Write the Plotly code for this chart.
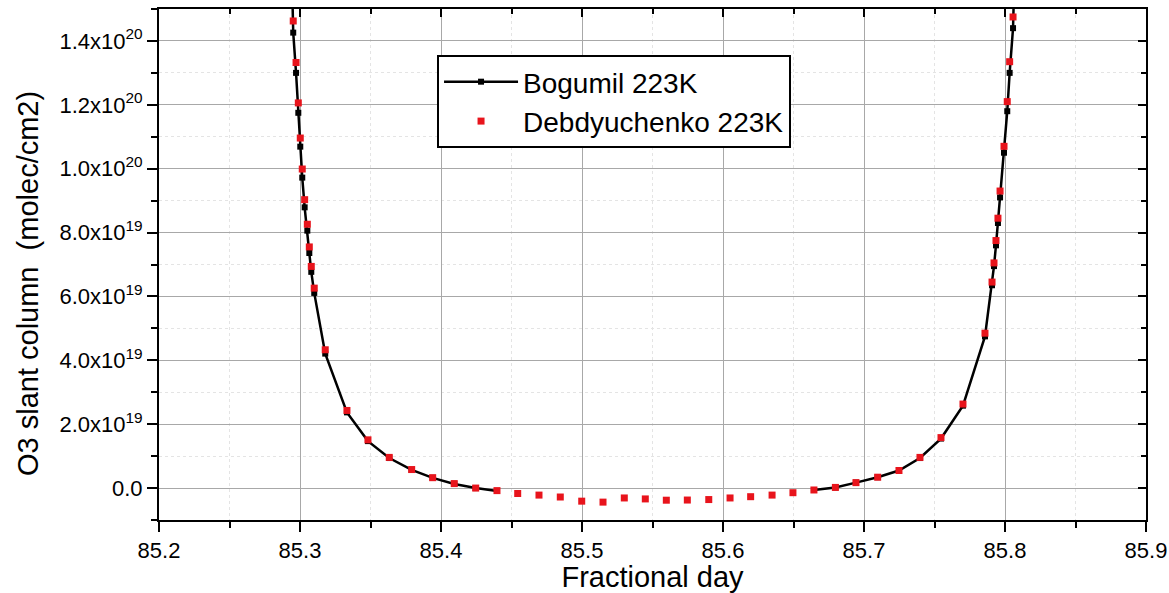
import plotly.graph_objects as go

# ---- data ----
bog_x = [85.2945, 85.2952, 85.2972, 85.2988, 85.3002, 85.3016, 85.3033, 85.3052, 85.3066, 85.3080, 85.3101,
         85.3179, 85.3333, 85.3482, 85.3633, 85.3792, 85.3941, 85.4094, 85.4246, 85.4397,
         None,
         85.6645, 85.6797, 85.6943, 85.7097, 85.7248, 85.7397, 85.7546, 85.7702, 85.7858,
         85.7908, 85.7922, 85.7936, 85.7950, 85.7965, 85.7993, 85.8016, 85.8033, 85.8057, 85.8064]
bog_y = [1.56e20, 1.426e20, 1.30e20, 1.175e20, 1.069e20, 9.72e19, 8.79e19, 8.06e19, 7.36e19, 6.77e19, 6.11e19,
         4.21e19, 2.37e19, 1.47e19, 9.4e18, 5.7e18, 3.2e18, 1.3e18, 0.0, -9e17,
         None,
         -6e17, 2e17, 1.7e18, 3.4e18, 5.5e18, 9.4e18, 1.55e19, 2.58e19, 4.75e19,
         6.35e19, 6.95e19, 7.6e19, 8.3e19, 9.1e19, 1.05e20, 1.18e20, 1.30e20, 1.44e20, 1.56e20]

deb_x = [85.2952, 85.2972, 85.2988, 85.3002, 85.3016, 85.3033, 85.3052, 85.3066, 85.3080, 85.3101,
         85.3179, 85.3333, 85.3482, 85.3633, 85.3792, 85.3941, 85.4094, 85.4246, 85.4397,
         85.4544, 85.4695, 85.4846, 85.4998, 85.5149, 85.5300, 85.5449, 85.5598, 85.5747, 85.5899,
         85.6050, 85.6196, 85.6348, 85.6496, 85.6645, 85.6797, 85.6943, 85.7097, 85.7248,
         85.7397, 85.7546, 85.7702, 85.7858, 85.7908, 85.7922, 85.7936, 85.7950, 85.7965,
         85.7993, 85.8016, 85.8033, 85.8057]
deb_y = [1.4625e20, 1.3325e20, 1.206e20, 1.096e20, 9.99e19, 9.03e19, 8.26e19, 7.55e19, 6.94e19, 6.26e19,
         4.33e19, 2.43e19, 1.51e19, 9.6e18, 5.8e18, 3.25e18, 1.4e18, 0.0, -8e17,
         -1.7e18, -2.2e18, -2.8e18, -4.1e18, -4.4e18, -3.1e18, -3.4e18, -3.8e18, -3.75e18, -3.6e18,
         -3.1e18, -2.7e18, -2.2e18, -1.45e18, -6e17, 2e17, 1.7e18, 3.4e18, 5.5e18,
         9.6e18, 1.58e19, 2.63e19, 4.85e19, 6.45e19, 7.05e19, 7.75e19, 8.45e19, 9.3e19,
         1.07e20, 1.21e20, 1.335e20, 1.475e20]

x_ticks = [85.2, 85.3, 85.4, 85.5, 85.6, 85.7, 85.8, 85.9]
y_ticks = [0, 2e19, 4e19, 6e19, 8e19, 1.0e20, 1.2e20, 1.4e20]
y_ticklabels = ["0.0", "2.0x10<sup>19</sup>", "4.0x10<sup>19</sup>", "6.0x10<sup>19</sup>",
                "8.0x10<sup>19</sup>", "1.0x10<sup>20</sup>", "1.2x10<sup>20</sup>", "1.4x10<sup>20</sup>"]
x_title = "Fractional day"
y_title = "O3 slant column  (molec/cm2)"

XR = [85.2, 85.9]
YR = [-1e19, 1.5e20]
FONT = "Arial, Liberation Sans, sans-serif"

fig = go.Figure()
fig.add_trace(go.Scatter(x=bog_x, y=bog_y, mode="lines+markers", name="Bogumil 223K",
                         line=dict(color="black", width=2.5),
                         marker=dict(symbol="square", size=6, color="black"),
                         connectgaps=False))
fig.add_trace(go.Scatter(x=deb_x, y=deb_y, mode="markers", name="Debdyuchenko 223K",
                         marker=dict(symbol="square", size=7, color="#e8141c")))
# empty trace to hold mirrored inside-tick axes
fig.add_trace(go.Scatter(x=[], y=[], xaxis="x2", yaxis="y2", showlegend=False, hoverinfo="skip"))

fig.update_layout(
    width=1169, height=593,
    margin=dict(l=159, r=23, t=9, b=73, autoexpand=False),
    paper_bgcolor="white", plot_bgcolor="white",
    font=dict(family=FONT, color="black", size=22),
    xaxis=dict(range=XR, tickvals=x_ticks, ticktext=[f"{v:.1f}" for v in x_ticks],
               ticks="outside", ticklen=10, tickwidth=2, tickcolor="black",
               showline=True, linecolor="black", linewidth=2, mirror=True,
               showgrid=True, gridcolor="#a8a8a8", gridwidth=1, zeroline=False,
               tickfont=dict(size=22), automargin=False,
               minor=dict(dtick=0.05, tick0=85.2, ticks="outside", ticklen=6, tickwidth=2, tickcolor="black",
                          showgrid=True, gridcolor="#e4e4e4", griddash="dot", gridwidth=1),
               title=dict(text=x_title, font=dict(size=29), standoff=0)),
    yaxis=dict(range=YR, tickvals=y_ticks, ticktext=y_ticklabels,
               ticks="outside", ticklen=10, tickwidth=2, tickcolor="black",
               showline=True, linecolor="black", linewidth=2, mirror=True,
               showgrid=True, gridcolor="#a8a8a8", gridwidth=1, zeroline=False,
               tickfont=dict(size=22), automargin=False,
               minor=dict(dtick=1e19, tick0=0, ticks="outside", ticklen=6, tickwidth=2, tickcolor="black",
                          showgrid=True, gridcolor="#e4e4e4", griddash="dot", gridwidth=1)),
    xaxis2=dict(range=XR, overlaying="x", side="top", anchor="y2", showgrid=False, zeroline=False,
                tickvals=x_ticks, showticklabels=False, ticks="inside", ticklen=8, tickwidth=2,
                tickcolor="black", automargin=False,
                minor=dict(dtick=0.05, tick0=85.2, ticks="inside", ticklen=5, tickwidth=2, tickcolor="black")),
    yaxis2=dict(range=YR, overlaying="y", side="right", anchor="x2", showgrid=False, zeroline=False,
                tickvals=y_ticks, showticklabels=False, ticks="inside", ticklen=8, tickwidth=2,
                tickcolor="black", automargin=False,
                minor=dict(dtick=1e19, tick0=0, ticks="inside", ticklen=5, tickwidth=2, tickcolor="black")),
    legend=dict(x=0.2817, y=0.91, xanchor="left", yanchor="top",
                bgcolor="white", bordercolor="black", borderwidth=2,
                font=dict(size=28, family=FONT), itemwidth=74, tracegroupgap=0),
    showlegend=True,
    annotations=[dict(text=y_title, textangle=-90, xref="paper", yref="paper",
                      x=-0.1327, y=0.4618, xanchor="center", yanchor="middle",
                      showarrow=False, font=dict(size=29, family=FONT, color="black"))],
)

fig.write_html("out.html")
